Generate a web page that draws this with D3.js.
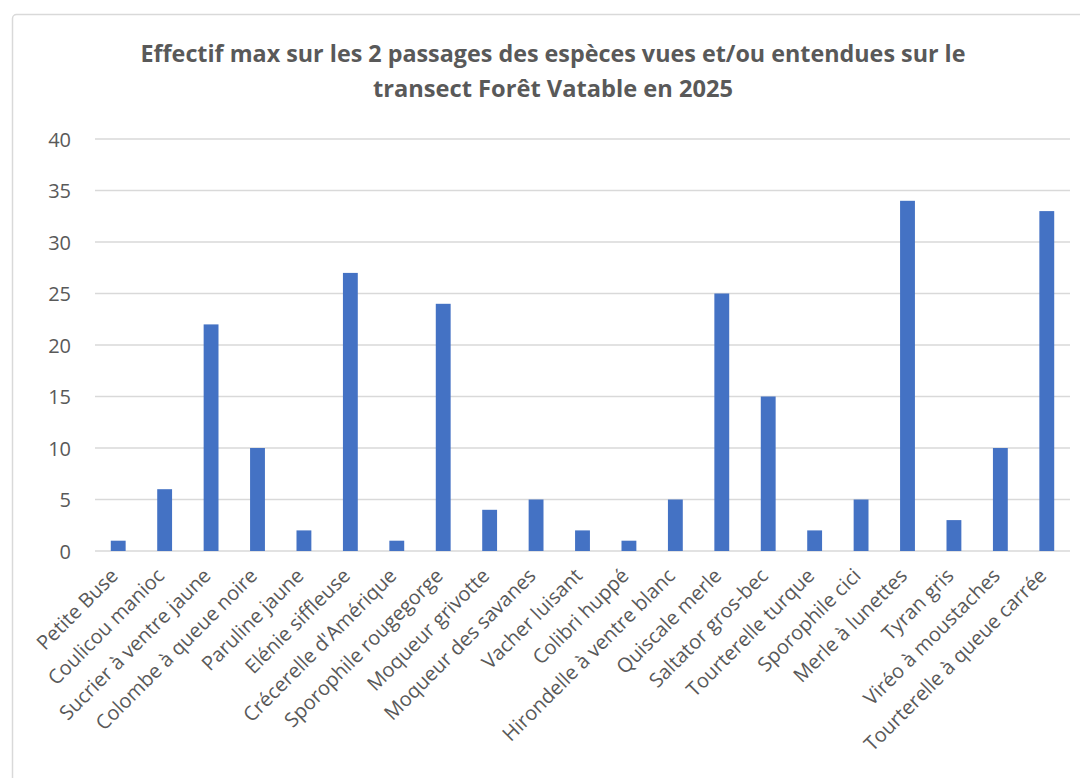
<!DOCTYPE html>
<html><head><meta charset="utf-8">
<script src="https://cdn.jsdelivr.net/npm/d3@7"></script>
<style>body{margin:0;background:#fff;}svg{display:block;}</style>
</head><body>
<svg id="c" width="1080" height="778"></svg>
<script>
const categories = ["Petite Buse","Coulicou manioc","Sucrier à ventre jaune","Colombe à queue noire","Paruline jaune","Elénie siffleuse","Crécerelle d'Amérique","Sporophile rougegorge","Moqueur grivotte","Moqueur des savanes","Vacher luisant","Colibri huppé","Hirondelle à ventre blanc","Quiscale merle","Saltator gros-bec","Tourterelle turque","Sporophile cici","Merle à lunettes","Tyran gris","Viréo à moustaches","Tourterelle à queue carrée"];
const values = [1,6,22,10,2,27,1,24,4,5,2,1,5,25,15,2,5,34,3,10,33];
const yTicks = [0,5,10,15,20,25,30,35,40];
const titleLines = ["Effectif max sur les 2 passages des espèces vues et/ou entendues sur le","transect Forêt Vatable en 2025"];

const svg = d3.select("#c");
const font = "'Open Sans', 'Liberation Sans', sans-serif";
const grey = "#595959";

// chart border
svg.append("rect").attr("x",12.5).attr("y",14.5).attr("width",1100).attr("height",800)
  .attr("rx",4).attr("fill","#fff").attr("stroke","#d9d9d9").attr("stroke-width",1.5);

const L = 95, R = 1070, T = 139, B = 551;
const x = d3.scaleBand().domain(categories).range([L,R]).paddingInner(0.68).paddingOuter(0.34);
const y = d3.scaleLinear().domain([0,40]).range([B,T]);

// gridlines
svg.append("g").selectAll("line").data(yTicks).join("line")
  .attr("x1",L).attr("x2",R).attr("y1",d=>y(d)).attr("y2",d=>y(d))
  .attr("stroke","#d9d9d9").attr("stroke-width",1.5);

// y axis labels
const yAxis = d3.axisLeft(y).tickValues(yTicks).tickSize(0).tickPadding(0);
const gy = svg.append("g").attr("transform",`translate(71,0)`).call(yAxis);
gy.select(".domain").remove();
gy.selectAll("text").attr("font-family",font).attr("font-size",20).attr("fill",grey).attr("dy","0.35em");

// bars
svg.append("g").selectAll("rect").data(values).join("rect")
  .attr("x",(d,i)=>x(categories[i])).attr("width",x.bandwidth())
  .attr("y",d=>y(d)).attr("height",d=>y(0)-y(d)).attr("fill","#4472C4");

// x axis labels
const xAxis = d3.axisBottom(x).tickSize(0).tickPadding(0);
const gx = svg.append("g").attr("transform",`translate(0,${B})`).call(xAxis);
gx.select(".domain").remove();
gx.selectAll("text").attr("font-family",font).attr("font-size",20).attr("fill",grey)
  .attr("text-anchor","end").attr("dy",0)
  .attr("transform","translate(1,26) rotate(-45)");

// title
const titleWidths = [825, 360];
svg.append("g").selectAll("text").data(titleLines).join("text")
  .attr("x",553).attr("y",(d,i)=>62+i*35).attr("text-anchor","middle")
  .attr("font-family",font).attr("font-weight","bold").attr("font-size",23).attr("fill",grey)
  .attr("textLength",(d,i)=>titleWidths[i]).attr("lengthAdjust","spacingAndGlyphs")
  .text(d=>d);
</script>
</body></html>
